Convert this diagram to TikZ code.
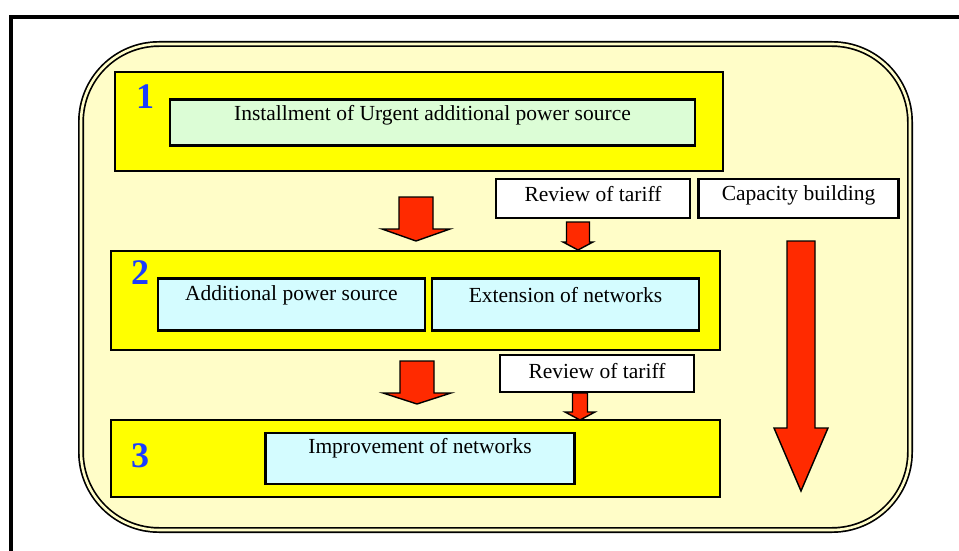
\documentclass[tikz,border=0pt]{standalone}
\usepackage{fontspec}
\setmainfont{Liberation Serif}
\definecolor{paleyellow}{HTML}{FFFDC8}
\definecolor{stageyellow}{HTML}{FFFF00}
\definecolor{palegreen}{HTML}{DCFDD6}
\definecolor{palecyan}{HTML}{D4FCFF}
\definecolor{arrowred}{HTML}{FF2A00}
\definecolor{numblue}{HTML}{1A3CFF}
\newcommand\blockarrow[6]{% centre x, shaft half width, top, wing y, wing half width, tip y
  \draw[arrowbody] ({#1-#2},#3) -- ({#1+#2},#3) -- ({#1+#2},#4) -- ({#1+#5},#4)
    -- (#1,#6) -- ({#1-#5},#4) -- ({#1-#2},#4) -- cycle;}
\begin{document}
\begin{tikzpicture}[x=1pt,y=-1pt,
  stagebox/.style={draw, line width=2pt, fill=stageyellow, rectangle, inner sep=0pt},
  taskbox/.style={draw, line width=2.2pt, rectangle, inner sep=0pt},
  notebox/.style={draw, line width=2.4pt, fill=white, rectangle, inner sep=0pt},
  lbl/.style={font=\fontsize{21.5}{24}\selectfont, inner sep=0pt},
  num/.style={font=\fontsize{36}{38}\selectfont\bfseries, text=numblue, inner sep=0pt},
  arrowbody/.style={draw, line width=1.4pt, fill=arrowred, line join=miter}]
\useasboundingbox (0,0) rectangle (959,551);
\fill[white] (0,0) rectangle (959,551);
% page frame
\draw[line width=3.2pt] (11,553) -- (11,17) -- (962,17);
% rounded background panel with double border
\draw[line width=1.7pt, double=paleyellow, double distance=2.6pt, fill=paleyellow,
      rounded corners=78pt] (81,44) rectangle (910,530);
% stage 1
\node[stagebox, minimum width=608pt, minimum height=99pt] (s1) at (418.5,121.5) {};
\node[num] (n1) at (145,97) {1};
\node[taskbox, fill=palegreen, minimum width=525pt, minimum height=46pt] (t1) at (432.5,122.5) {};
\node[lbl] (t1l) at (432.5,115) {Installment of Urgent additional power source};
% notes between stage 1 and 2
\node[notebox, minimum width=194pt, minimum height=39pt] (r1) at (593,198.5) {};
\node[lbl] (r1l) at (593,194) {Review of tariff};
\node[notebox, minimum width=200pt, minimum height=39pt] (cb) at (798.5,198.5) {};
\node[lbl] (cbl) at (798.5,195) {Capacity building};
% stage 2
\node[stagebox, minimum width=609pt, minimum height=99pt] (s2) at (415.5,300.5) {};
\node[num] (n2) at (140,273) {2};
\node[taskbox, fill=palecyan, minimum width=267pt, minimum height=52pt] (t2a) at (291.5,304.5) {};
\node[lbl] (t2al) at (291.5,295) {Additional power source};
\node[taskbox, fill=palecyan, minimum width=267pt, minimum height=52pt] (t2b) at (565.5,304.5) {};
\node[lbl] (t2bl) at (565.5,295) {Extension of networks};
% note between stage 2 and 3
\node[notebox, minimum width=194pt, minimum height=37pt] (r2) at (597,373.5) {};
\node[lbl] (r2l) at (597,371) {Review of tariff};
% stage 3
\node[stagebox, minimum width=609pt, minimum height=77pt] (s3) at (415.5,458.5) {};
\node[num] (n3) at (140,456) {3};
\node[taskbox, fill=palecyan, minimum width=309pt, minimum height=51pt] (t3) at (420,458.5) {};
\node[lbl] (t3l) at (420,448) {Improvement of networks};
% block arrows
\blockarrow{416}{17}{197}{229}{34}{241}
\blockarrow{578}{11.5}{222}{242}{15}{250}
\blockarrow{417}{17}{361}{393}{34}{404}
\blockarrow{580}{7.5}{393}{412}{15}{420}
\blockarrow{801}{14}{241}{428}{27}{491}
\end{tikzpicture}
\end{document}
